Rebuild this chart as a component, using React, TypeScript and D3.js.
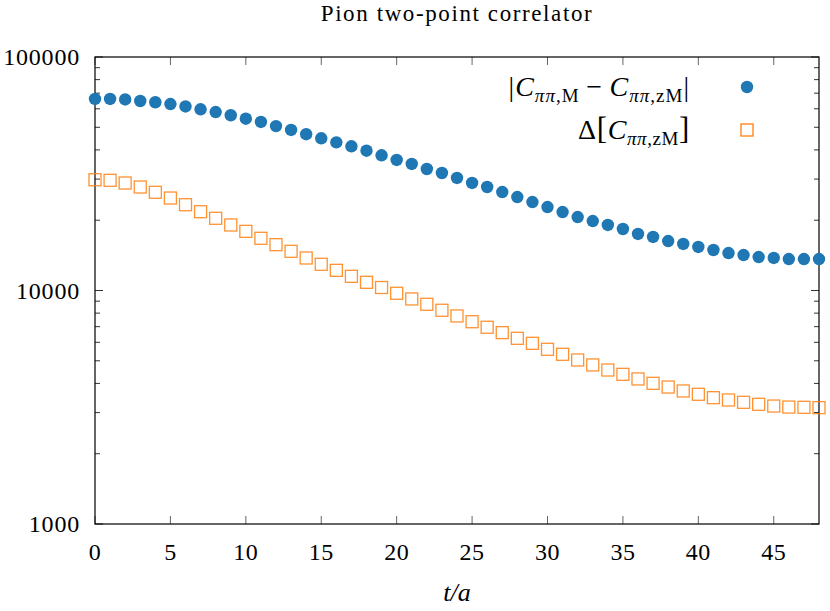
import React from "react";
import * as d3 from "d3";

const tValues: number[] = Array.from({ length: 49 }, (_, i) => i);

const diffValues: number[] = [
  66100, 66100, 65800, 64800, 64000, 62900, 61400, 59700, 58100, 56300,
  54400, 52700, 50600, 48700, 46700, 44850, 43100, 41450, 39700, 37930,
  36220, 34820, 33140, 31860, 30330, 28870, 27750, 26410, 25140, 23930,
  22770, 21680, 20630, 19840, 19080, 18340, 17460, 16950, 16290, 15820,
  15360, 14910, 14470, 14190, 13910, 13780, 13640, 13640, 13640,
];

const errValues: number[] = [
  29810, 29640, 28870, 27750, 26340, 24890, 23300, 21750, 20380, 19080,
  17920, 16730, 15710, 14720, 13780, 12950, 12200, 11500, 10840, 10300,
  9730, 9200, 8730, 8230, 7780, 7350, 6960, 6600, 6240, 5940,
  5600, 5330, 5040, 4800, 4565, 4375, 4180, 4005, 3860, 3713,
  3593, 3475, 3397, 3320, 3255, 3200, 3168, 3160, 3150,
];

const xTicks: number[] = [0, 5, 10, 15, 20, 25, 30, 35, 40, 45];
const yMajorTicks: number[] = [1000, 10000, 100000];
const yMinorTicks: number[] = [
  2000, 3000, 4000, 5000, 6000, 7000, 8000, 9000,
  20000, 30000, 40000, 50000, 60000, 70000, 80000, 90000,
];

const W = 830;
const H = 611;
const L = 95;
const R = 819;
const T = 57;
const B = 524;
const FONT = "'Liberation Serif', 'DejaVu Serif', serif";
const BLUE = "#1f77b4";
const ORANGE = "#ff7f0e";

export default function App() {
  const x = d3.scaleLinear().domain([0, 48]).range([L, R]);
  const y = d3.scaleLog().domain([1000, 100000]).range([B, T]);

  return (
    <svg
      width={W}
      height={H}
      style={{ position: "absolute", left: 0, top: 0, background: "#fff" }}
      fontFamily={FONT}
    >
      <rect x={0} y={0} width={W} height={H} fill="#fff" />
      {/* title */}
      <text x={(L + R) / 2} y={21} textAnchor="middle" fontSize={23} letterSpacing={1.6} fill="#000">
        Pion two-point correlator
      </text>

      {/* x ticks (bottom and top, inward) */}
      {xTicks.map((t) => (
        <g key={"xt" + t}>
          <line x1={x(t)} x2={x(t)} y1={B} y2={B - 8} stroke="#666" strokeWidth={1} />
          <line x1={x(t)} x2={x(t)} y1={T} y2={T + 8} stroke="#666" strokeWidth={1} />
          <text x={x(t)} y={B + 36} textAnchor="middle" fontSize={24} letterSpacing={0.5} fill="#000">
            {t}
          </text>
        </g>
      ))}

      {/* y ticks */}
      {yMajorTicks.map((v) => (
        <g key={"ym" + v}>
          <line x1={L} x2={L + 8} y1={y(v)} y2={y(v)} stroke="#333" strokeWidth={1} />
          <line x1={R} x2={R - 8} y1={y(v)} y2={y(v)} stroke="#333" strokeWidth={1} />
          <text x={80} y={y(v) + 8} textAnchor="end" fontSize={24} letterSpacing={0.8} fill="#000">
            {v}
          </text>
        </g>
      ))}
      {yMinorTicks.map((v) => (
        <g key={"yn" + v}>
          <line x1={L} x2={L + 5} y1={y(v)} y2={y(v)} stroke="#333" strokeWidth={1} />
          <line x1={R} x2={R - 5} y1={y(v)} y2={y(v)} stroke="#333" strokeWidth={1} />
        </g>
      ))}

      {/* frame */}
      <rect x={L} y={T} width={R - L} height={B - T} fill="none" stroke="#000" strokeWidth={1.2} />

      {/* data */}
      {tValues.map((t, i) => (
        <circle key={"c" + t} cx={x(t)} cy={y(diffValues[i])} r={6.2} fill={BLUE} />
      ))}
      {tValues.map((t, i) => (
        <rect
          key={"s" + t}
          x={x(t) - 6}
          y={y(errValues[i]) - 6}
          width={12}
          height={12}
          fill="none"
          stroke={ORANGE}
          strokeOpacity={0.85}
          strokeWidth={1.3}
        />
      ))}

      {/* legend */}
      <text x={690} y={96} textAnchor="end" fontSize={28} letterSpacing={1} fill="#000">
        <tspan>|</tspan>
        <tspan fontStyle="italic">C</tspan>
        <tspan fontSize={19} dy={6}>
          <tspan fontStyle="italic">ππ</tspan>,M
        </tspan>
        <tspan dy={-6}>{"\u2009\u2212\u2009"}</tspan>
        <tspan fontStyle="italic">C</tspan>
        <tspan fontSize={19} dy={6}>
          <tspan fontStyle="italic">ππ</tspan>,zM
        </tspan>
        <tspan dy={-6}>|</tspan>
      </text>
      <circle cx={747} cy={87} r={6.2} fill={BLUE} />

      <text x={690} y={139} textAnchor="end" fontSize={28} letterSpacing={0.6} fill="#000">
        <tspan>Δ</tspan>
        <tspan fontSize={31}>[</tspan>
        <tspan fontStyle="italic">C</tspan>
        <tspan fontSize={19} dy={6}>
          <tspan fontStyle="italic">ππ</tspan>,zM
        </tspan>
        <tspan fontSize={31} dy={-6}>]</tspan>
      </text>
      <rect x={741} y={124} width={12} height={12} fill="none" stroke={ORANGE} strokeWidth={1.3} />

      {/* x label */}
      <text x={(L + R) / 2} y={601} textAnchor="middle" fontSize={26} fill="#000" fontStyle="italic">
        t/a
      </text>
    </svg>
  );
}
